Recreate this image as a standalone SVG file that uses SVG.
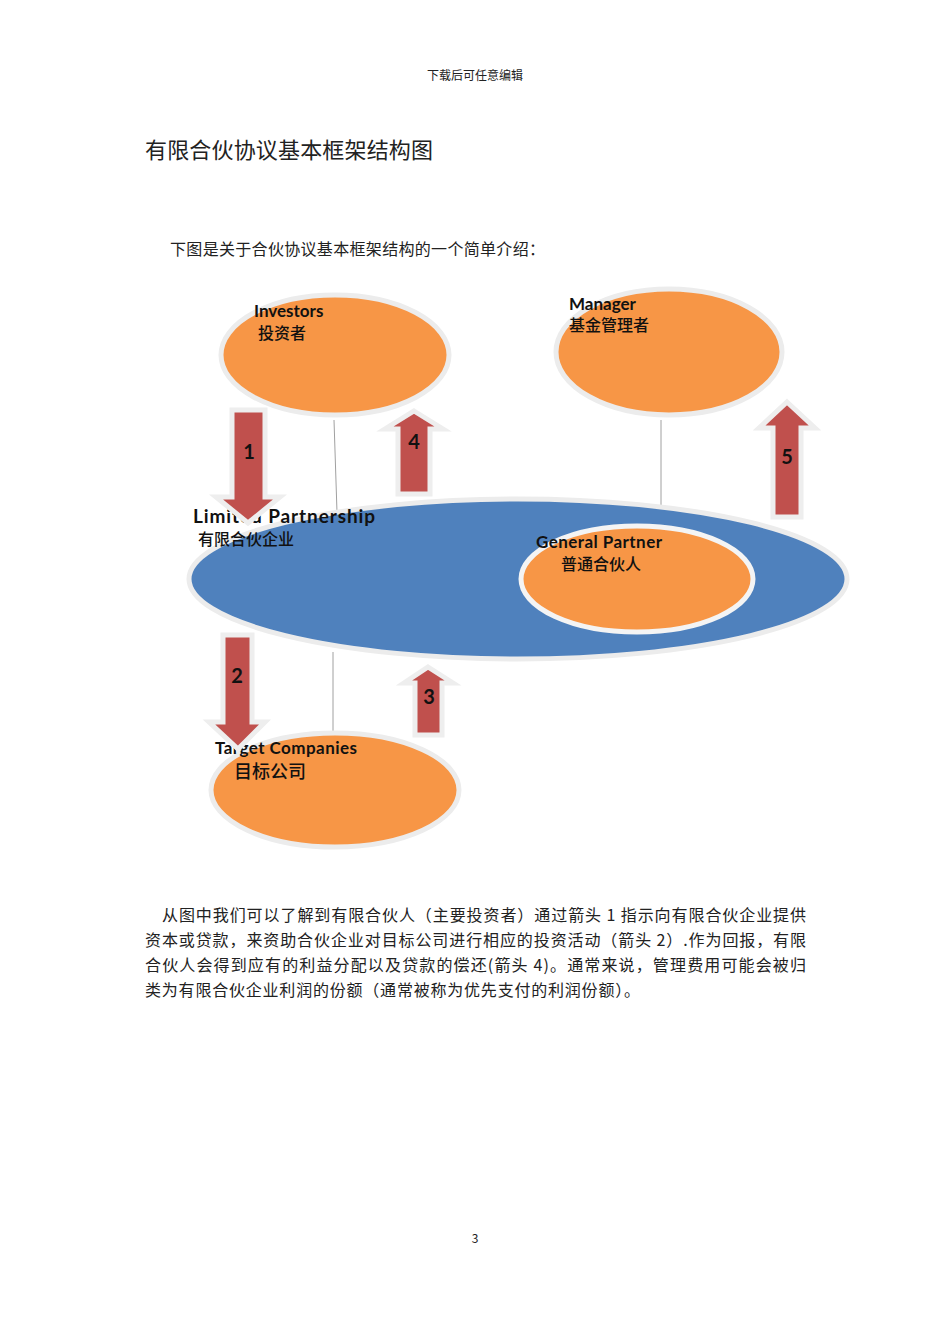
<svg xmlns="http://www.w3.org/2000/svg" width="950" height="1344" viewBox="0 0 950 1344">
<style>
.cn{font-family:"Noto Sans CJK SC","Noto Sans",sans-serif;fill:#222}
.lbl{font-family:Lato,"Liberation Sans",sans-serif;font-weight:bold;fill:#111}
.lblc{font-family:"Noto Sans CJK SC",sans-serif;font-weight:500;fill:#111}
.org{fill:#F79646;stroke:#ececec;stroke-width:5}
.blue{fill:#4F81BD;stroke:#ececec;stroke-width:5}
.gp{fill:#F79646;stroke:#f4f4f4;stroke-width:5}
.arr{fill:#C0504D;stroke:#eeeeee;stroke-width:5;stroke-linejoin:miter}
.num{font-family:Lato,"Liberation Sans",sans-serif;font-weight:bold;font-size:20px;fill:#111;text-anchor:middle}
.con{stroke:#a0a0a0;stroke-width:1;fill:none}
</style>
<rect width="950" height="1344" fill="#fff"/>
<text class="cn" x="475" y="80" font-size="12" text-anchor="middle" fill="#333">下载后可任意编辑</text>
<text class="cn" x="145" y="158" font-size="22" textLength="288">有限合伙协议基本框架结构图</text>
<text class="cn" x="170" y="255" font-size="16" textLength="375">下图是关于合伙协议基本框架结构的一个简单介绍：</text>

<g id="connectors">
<line class="con" x1="334" y1="420" x2="337" y2="512"/>
<line class="con" x1="661" y1="420" x2="661" y2="512"/>
<line class="con" x1="333" y1="652" x2="333" y2="732"/>
</g>

<g id="investors">
<ellipse class="org" cx="335" cy="355" rx="114" ry="60"/>
<text class="lbl" x="254" y="317" font-size="17">Investors</text>
<text class="lblc" x="258" y="339" font-size="16">投资者</text>
</g>
<g id="manager">
<ellipse class="org" cx="669" cy="352" rx="113" ry="63"/>
<text class="lbl" x="569" y="310" font-size="17">Manager</text>
<text class="lblc" x="569" y="331" font-size="16">基金管理者</text>
</g>
<g id="limited-partnership">
<ellipse class="blue" cx="518" cy="579" rx="329" ry="80"/>
<text class="lbl" x="193" y="523" font-size="19" textLength="182">Limited Partnership</text>
<text class="lblc" x="198" y="545" font-size="16">有限合伙企业</text>
</g>
<g id="general-partner">
<ellipse class="gp" cx="637" cy="579" rx="116" ry="53"/>
<text class="lbl" x="536" y="548" font-size="17" textLength="126">General Partner</text>
<text class="lblc" x="561" y="570" font-size="16">普通合伙人</text>
</g>
<g id="target-companies">
<ellipse class="org" cx="335" cy="790" rx="124" ry="57"/>
<text class="lbl" x="215" y="754" font-size="17" textLength="142">Target Companies</text>
<text class="lblc" x="234" y="778" font-size="18">目标公司</text>
</g>

<g id="arrow-1">
<polygon class="arr" points="232,410 265,410 265,497 280,497 248,523 216,497 232,497"/>
<text class="num" x="249" y="459">1</text>
</g>
<g id="arrow-4">
<polygon class="arr" points="414,411 443,429 430,429 430,494 398,494 398,429 385,429"/>
<text class="num" x="414" y="449">4</text>
</g>
<g id="arrow-5">
<polygon class="arr" points="787,402 815,428 801,428 801,517 773,517 773,428 759,428"/>
<text class="num" x="787" y="464">5</text>
</g>
<g id="arrow-2">
<polygon class="arr" points="223,635 252,635 252,722 265,722 238,749 209,722 223,722"/>
<text class="num" x="237" y="683">2</text>
</g>
<g id="arrow-3">
<polygon class="arr" points="428,667 453,683 442,683 442,735 415,735 415,683 404,683"/>
<text class="num" x="429" y="704">3</text>
</g>

<g id="paragraph" class="cn" font-size="16">
<text x="162" y="921" textLength="644">从图中我们可以了解到有限合伙人（主要投资者）通过箭头 1 指示向有限合伙企业提供</text>
<text x="145" y="946" textLength="661">资本或贷款，来资助合伙企业对目标公司进行相应的投资活动（箭头 2）.作为回报，有限</text>
<text x="145" y="971" textLength="661">合伙人会得到应有的利益分配以及贷款的偿还(箭头 4)。通常来说，管理费用可能会被归</text>
<text x="145" y="996" textLength="495">类为有限合伙企业利润的份额（通常被称为优先支付的利润份额）。</text>
</g>
<text class="cn" x="475" y="1243" font-size="12" text-anchor="middle">3</text>
</svg>
